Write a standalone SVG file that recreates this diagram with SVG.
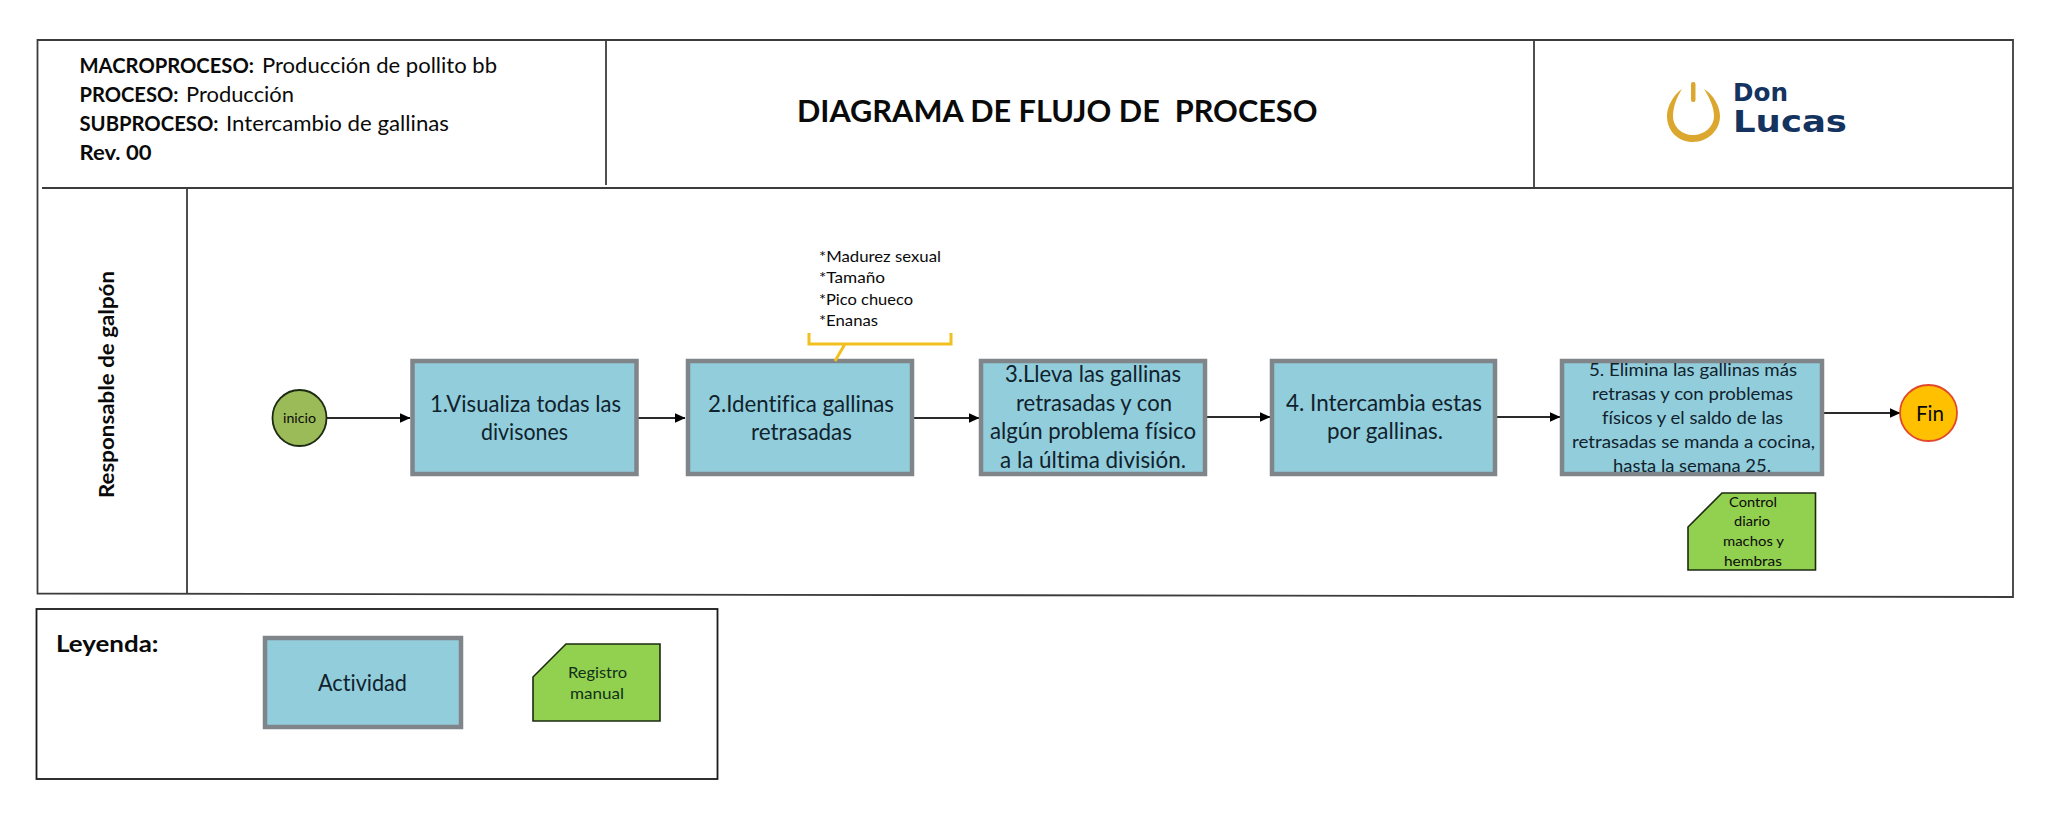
<svg xmlns="http://www.w3.org/2000/svg" width="2048" height="815" viewBox="0 0 2048 815">
<style>
text{font-family:Lato,"Liberation Sans",sans-serif;fill:#0a0a0a;font-variant-ligatures:none}
.b{font-weight:700}
.act{fill:#92cddc;stroke:#7f8589;stroke-width:4.5}
.doc{fill:#92d050;stroke:#1c2a12;stroke-width:1.6}
.ln{fill:none;stroke:#3c3c3c;stroke-width:1.8}
.cn{fill:none;stroke:#2a2a2a;stroke-width:1.8;marker-end:url(#ah)}
.h{font-size:21px}
.m{font-size:23px;fill:#10222c}
.s{font-size:17px;fill:#10222c}
.t{font-size:14px}
.n{font-size:16px}
.lg{font-family:"DejaVu Sans",sans-serif;fill:#14335f;font-weight:700}
</style>
<defs><marker id="ah" markerUnits="userSpaceOnUse" markerWidth="11" markerHeight="11" refX="10.5" refY="5.5" orient="auto"><path d="M0,0.5 L11,5.5 L0,10.5 Z" fill="#000"/></marker></defs>
<rect width="2048" height="815" fill="#fff"/>
<g id="frame">
<path class="ln" d="M37.5,40 H2013 V597 L37.5,593.5 Z"/>
<path class="ln" d="M42,188 H2013"/>
<path class="ln" d="M606,40 V185"/>
<path class="ln" d="M1534,40 V188"/>
<path class="ln" d="M187,188 V594"/>
</g>
<g id="header-info">
<text class="h" y="73"><tspan class="b" x="79.5" textLength="174.5" lengthAdjust="spacingAndGlyphs">MACROPROCESO:</tspan><tspan x="262" textLength="235" lengthAdjust="spacingAndGlyphs">Producción de pollito bb</tspan></text>
<text class="h" y="102"><tspan class="b" x="79.5" textLength="99" lengthAdjust="spacingAndGlyphs">PROCESO:</tspan><tspan x="186" textLength="108" lengthAdjust="spacingAndGlyphs">Producción</tspan></text>
<text class="h" y="131"><tspan class="b" x="79.5" textLength="139" lengthAdjust="spacingAndGlyphs">SUBPROCESO:</tspan><tspan x="226" textLength="223" lengthAdjust="spacingAndGlyphs">Intercambio de gallinas</tspan></text>
<text class="h b" x="79.5" y="160" textLength="72" lengthAdjust="spacingAndGlyphs">Rev. 00</text>
</g>
<g id="title"><text class="b" x="797" y="122" font-size="30" xml:space="preserve" textLength="520.5" lengthAdjust="spacingAndGlyphs">DIAGRAMA DE FLUJO DE  PROCESO</text></g>
<g id="logo">
<path fill="#dca72f" d="M1682,89 C1673,95 1667,107 1667,116 C1667,132 1679,142 1693,142 C1707,142 1720,131 1720,116 C1720,107 1714,95 1704,89 C1710,98 1714,108 1714,116 C1714,127 1704,135 1693,135 C1682,135 1673,127 1673,116 C1673,108 1676,98 1682,89 Z"/>
<rect x="1691" y="82" width="4.5" height="20" rx="2" fill="#dca72f"/>
<text class="lg" x="1733" y="101" font-size="24" textLength="55" lengthAdjust="spacingAndGlyphs">Don</text>
<text class="lg" x="1733" y="132" font-size="30" textLength="114" lengthAdjust="spacingAndGlyphs">Lucas</text>
</g>
<g id="lane-label"><text class="b" transform="translate(114,498) rotate(-90)" x="0" y="0" font-size="21.5" textLength="227" lengthAdjust="spacingAndGlyphs">Responsable de galpón</text></g>
<g id="connectors">
<path class="cn" d="M327,418 H410"/>
<path class="cn" d="M638,418 H685"/>
<path class="cn" d="M914,418 H979"/>
<path class="cn" d="M1207,417 H1270"/>
<path class="cn" d="M1497,417 H1560"/>
<path class="cn" d="M1824,413 H1900"/>
</g>
<g id="inicio"><ellipse cx="299.5" cy="418" rx="27" ry="28" fill="#9bbb59" stroke="#1c2a12" stroke-width="1.8"/><text class="t" x="283" y="423" textLength="33" lengthAdjust="spacingAndGlyphs">inicio</text></g>
<g id="n1"><rect class="act" x="412.5" y="361" width="224" height="113"/>
<text class="m" x="430" y="412" textLength="191" lengthAdjust="spacingAndGlyphs">1.Visualiza todas las</text>
<text class="m" x="481" y="440" textLength="87" lengthAdjust="spacingAndGlyphs">divisones</text></g>
<g id="n2"><rect class="act" x="688" y="361" width="224" height="113"/>
<text class="m" x="708" y="412" textLength="186" lengthAdjust="spacingAndGlyphs">2.Identifica gallinas</text>
<text class="m" x="751" y="440" textLength="101" lengthAdjust="spacingAndGlyphs">retrasadas</text></g>
<g id="n2-note">
<path fill="none" stroke="#f2c01e" stroke-width="3" d="M809,333 V344 H951 V333 M845,344 L835,361"/>
<text class="n" x="819" y="262" textLength="122" lengthAdjust="spacingAndGlyphs">*Madurez sexual</text>
<text class="n" x="819" y="283" textLength="66" lengthAdjust="spacingAndGlyphs">*Tamaño</text>
<text class="n" x="819" y="305" textLength="94" lengthAdjust="spacingAndGlyphs">*Pico chueco</text>
<text class="n" x="819" y="326" textLength="59" lengthAdjust="spacingAndGlyphs">*Enanas</text>
</g>
<g id="n3"><rect class="act" x="981" y="361" width="224" height="113"/>
<text class="m" x="1005" y="382" textLength="176" lengthAdjust="spacingAndGlyphs">3.Lleva las gallinas</text>
<text class="m" x="1016" y="411" textLength="156" lengthAdjust="spacingAndGlyphs">retrasadas y con</text>
<text class="m" x="990" y="439" textLength="206" lengthAdjust="spacingAndGlyphs">algún problema físico</text>
<text class="m" x="1000" y="468" textLength="186" lengthAdjust="spacingAndGlyphs">a la última división.</text></g>
<g id="n4"><rect class="act" x="1272" y="361" width="223" height="113"/>
<text class="m" x="1286" y="411" textLength="196" lengthAdjust="spacingAndGlyphs">4. Intercambia estas</text>
<text class="m" x="1327" y="439" textLength="116" lengthAdjust="spacingAndGlyphs">por gallinas.</text></g>
<g id="n5"><rect class="act" x="1562" y="361" width="260" height="113"/>
<text class="s" x="1589" y="376" textLength="208" lengthAdjust="spacingAndGlyphs">5. Elimina las gallinas más</text>
<text class="s" x="1592" y="400" textLength="201" lengthAdjust="spacingAndGlyphs">retrasas y con problemas</text>
<text class="s" x="1602" y="424" textLength="181" lengthAdjust="spacingAndGlyphs">físicos y el saldo de las</text>
<text class="s" x="1572" y="448" textLength="243" lengthAdjust="spacingAndGlyphs">retrasadas se manda a cocina,</text>
<text class="s" x="1613" y="472" textLength="158" lengthAdjust="spacingAndGlyphs">hasta la semana 25.</text></g>
<g id="fin"><ellipse cx="1928.5" cy="413" rx="28.5" ry="28" fill="#ffc000" stroke="#e2492a" stroke-width="1.8"/><text x="1916" y="421" font-size="22" textLength="28" lengthAdjust="spacingAndGlyphs">Fin</text></g>
<g id="registro-control"><path class="doc" d="M1722,493 H1815.5 V570 H1688 V527 Z"/>
<text class="t" x="1729" y="507" textLength="48" lengthAdjust="spacingAndGlyphs">Control</text>
<text class="t" x="1734" y="526" textLength="36" lengthAdjust="spacingAndGlyphs">diario</text>
<text class="t" x="1723" y="546" textLength="61" lengthAdjust="spacingAndGlyphs">machos y</text>
<text class="t" x="1724" y="566" textLength="58" lengthAdjust="spacingAndGlyphs">hembras</text></g>
<g id="legend">
<rect x="36.5" y="609" width="681" height="170" fill="none" stroke="#1a1a1a" stroke-width="1.8"/>
<text class="b" x="56" y="652" font-size="23" textLength="102.5" lengthAdjust="spacingAndGlyphs">Leyenda:</text>
</g>
<g id="legend-actividad"><rect class="act" x="265" y="638" width="196" height="89"/><text class="m" x="318" y="691" textLength="89" lengthAdjust="spacingAndGlyphs">Actividad</text></g>
<g id="legend-registro"><path class="doc" d="M566,644 H660 V721 H533 V677 Z"/>
<text class="n" x="568" y="678" textLength="59" lengthAdjust="spacingAndGlyphs" style="fill:#10301a">Registro</text>
<text class="n" x="570" y="699" textLength="54" lengthAdjust="spacingAndGlyphs" style="fill:#10301a">manual</text></g>
</svg>
